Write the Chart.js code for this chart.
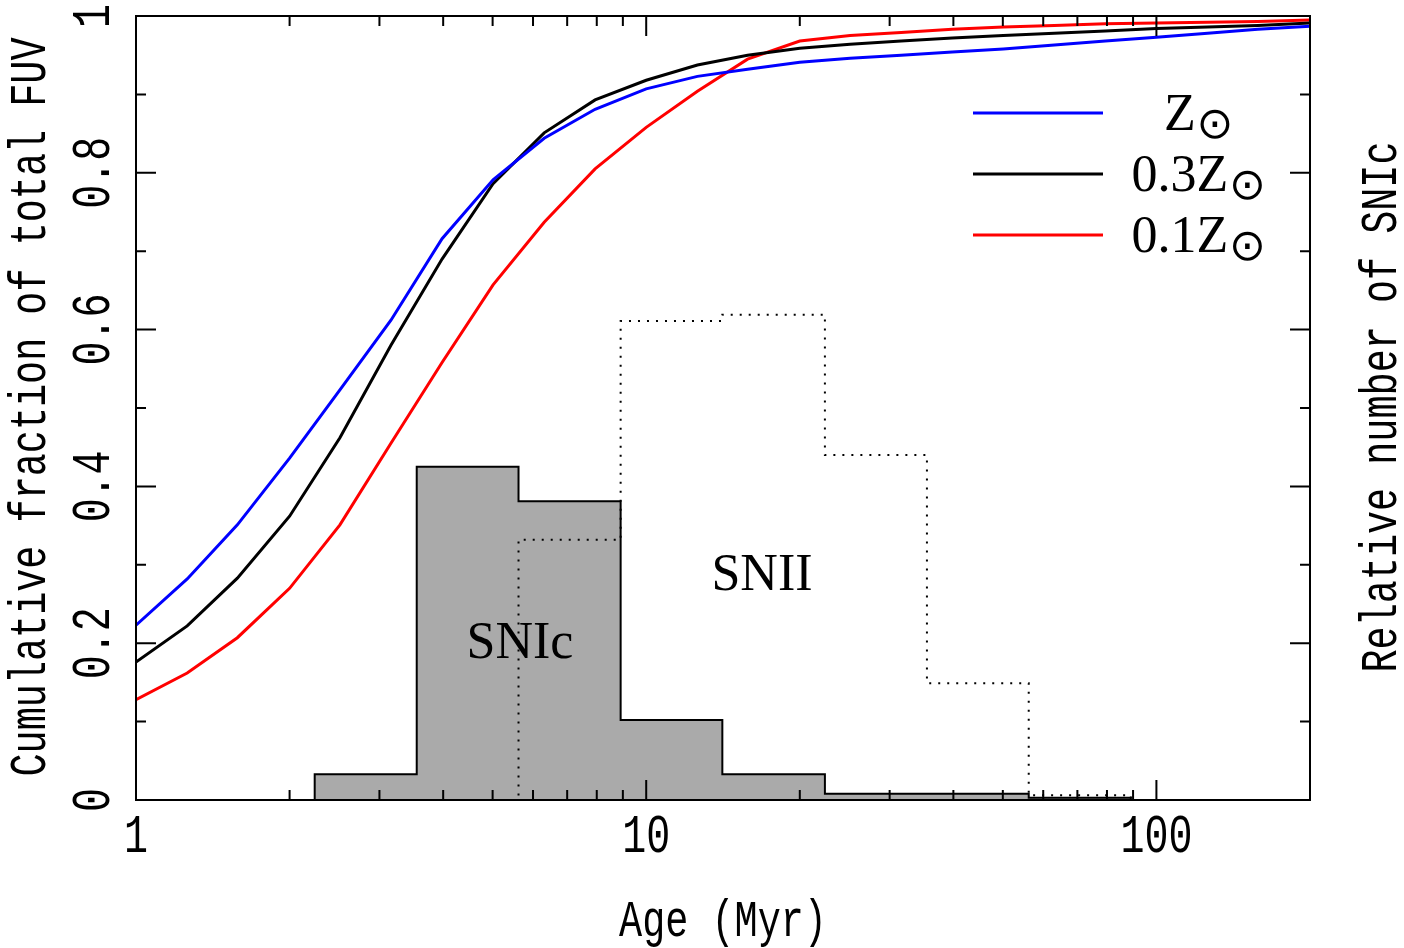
<!DOCTYPE html>
<html lang="en">
  <head>
    <meta charset="UTF-8" />
    <title>Cumulative FUV fraction vs age</title>
    <script src="https://cdn.jsdelivr.net/npm/chart.js"></script>
    <style>
      html,body{margin:0;padding:0;background:#fff}
      #wrap{width:1404px;height:948px}
    </style>
  </head>
  <body>
    <div id="wrap"><canvas id="chart" width="1404" height="948"></canvas></div>
    <script>
      // model ages (Myr), 0.1 dex grid
      const ages = [1, 1.26, 1.58, 2, 2.51, 3.16, 3.98, 5.01, 6.31, 7.94, 10, 12.6, 15.8, 20, 25.1, 31.6, 39.8, 50.1, 63.1, 79.4, 100, 126, 158, 200];
      // cumulative fraction of total FUV
      const fuvSolar = [0.223, 0.282, 0.351, 0.436, 0.523, 0.612, 0.716, 0.791, 0.844, 0.881, 0.907, 0.923, 0.932, 0.941, 0.946, 0.950, 0.954, 0.958, 0.963, 0.968, 0.973, 0.978, 0.983, 0.987];
      const fuv03 = [0.176, 0.222, 0.283, 0.362, 0.462, 0.580, 0.690, 0.786, 0.851, 0.893, 0.918, 0.9375, 0.950, 0.959, 0.964, 0.968, 0.972, 0.975, 0.978, 0.981, 0.984, 0.986, 0.988, 0.991];
      const fuv01 = [0.128, 0.162, 0.207, 0.270, 0.351, 0.455, 0.558, 0.657, 0.737, 0.805, 0.858, 0.904, 0.945, 0.968, 0.975, 0.979, 0.983, 0.986, 0.988, 0.990, 0.991, 0.992, 0.993, 0.995];

      // histogram bin edges (Myr) and relative numbers per bin
      const binEdges = [1, 1.41, 2.24, 3.55, 5.62, 8.91, 14.1, 22.4, 35.5, 56.2, 89.1, 141, 200];
      const snIc = [0, 0, 0.033, 0.425, 0.381, 0.102, 0.033, 0.008, 0.008, 0.003, 0, 0];
      const snII = [0, 0, 0, 0, 0.332, 0.611, 0.619, 0.44, 0.149, 0.006, 0, 0];

      const xMajor = [1, 10, 100];
      const xMinor = [2, 3, 4, 5, 6, 7, 8, 9, 20, 30, 40, 50, 60, 70, 80, 90, 200];
      const xTickLabels = ['1', '10', '100'];
      const yMajor = [0, 0.2, 0.4, 0.6, 0.8, 1];
      const yMinor = [0.1, 0.3, 0.5, 0.7, 0.9];
      const yTickLabels = ['0', '0.2', '0.4', '0.6', '0.8', '1'];

      const legendNames = ['Z', '0.3Z', '0.1Z'];
      const colors = ['#0000ff', '#000000', '#ff0000'];

      const curve = ys => ages.map((a, i) => ({ x: a, y: ys[i] }));
      // point i opens bin i; stepped 'before' holds it up to the next edge
      const hist = vals => binEdges.map((e, i) => ({ x: e, y: vals[Math.min(i, vals.length - 1)] }));

      const MONO = 'Liberation Mono';
      function txt(ctx, s, x, y, rot, font, sx) {
        ctx.save();
        ctx.translate(x, y);
        ctx.rotate(rot);
        ctx.scale(sx, 1);
        ctx.font = font;
        ctx.fillStyle = '#000';
        ctx.textAlign = 'center';
        ctx.textBaseline = 'middle';
        ctx.fillText(s, 0, 0);
        ctx.restore();
      }

      const decor = {
        id: 'decor',
        afterDatasetsDraw(chart) {
          const { ctx, chartArea: a, scales: { x, y } } = chart;
          ctx.save();
          ctx.strokeStyle = '#000';
          ctx.lineWidth = 2;
          ctx.strokeRect(a.left, a.top, a.right - a.left, a.bottom - a.top);

          ctx.beginPath();
          const xt = (v, len) => {
            const px = x.getPixelForValue(v);
            ctx.moveTo(px, a.bottom); ctx.lineTo(px, a.bottom - len);
            ctx.moveTo(px, a.top); ctx.lineTo(px, a.top + len);
          };
          const yt = (v, len) => {
            const py = y.getPixelForValue(v);
            ctx.moveTo(a.left, py); ctx.lineTo(a.left + len, py);
            ctx.moveTo(a.right, py); ctx.lineTo(a.right - len, py);
          };
          xMajor.forEach(v => xt(v, 20));
          xMinor.forEach(v => xt(v, 10));
          yMajor.forEach(v => yt(v, 20));
          yMinor.forEach(v => yt(v, 10));
          ctx.stroke();

          // tick labels
          xMajor.forEach((v, i) => txt(ctx, xTickLabels[i], x.getPixelForValue(v), 838, 0, `54px "${MONO}"`, 0.74));
          yMajor.forEach((v, i) => txt(ctx, yTickLabels[i], 95, y.getPixelForValue(v), -Math.PI / 2, `54px "${MONO}"`, 0.74));

          // axis titles
          txt(ctx, 'Age (Myr)', (a.left + a.right) / 2, 922, 0, `52px "${MONO}"`, 0.74);
          txt(ctx, 'Cumulative fraction of total FUV', 31, 407, -Math.PI / 2, `52px "${MONO}"`, 0.74);
          txt(ctx, 'Relative number of SNIc', 1382, 407, -Math.PI / 2, `52px "${MONO}"`, 0.74);

          // legend
          const rows = [113, 174, 235];
          rows.forEach((ly, i) => {
            ctx.strokeStyle = colors[i];
            ctx.lineWidth = 3;
            ctx.beginPath();
            ctx.moveTo(973, ly); ctx.lineTo(1103, ly);
            ctx.stroke();
            ctx.font = '52px "Liberation Serif"';
            ctx.fillStyle = '#000';
            ctx.textAlign = 'left';
            ctx.textBaseline = 'alphabetic';
            const w = ctx.measureText(legendNames[i]).width;
            const start = 1197 - (w + 34) / 2;
            const base = ly + 17;
            ctx.fillText(legendNames[i], start, base);
            ctx.font = '44px "DejaVu Sans"';
            ctx.textAlign = 'center';
            ctx.textBaseline = 'middle';
            ctx.fillText('\u2299', start + w + 19, base - 3);
          });

          // histogram labels
          ctx.font = '52px "Liberation Serif"';
          ctx.textAlign = 'center';
          ctx.textBaseline = 'alphabetic';
          ctx.fillText('SNIc', 520, 658);
          ctx.fillText('SNII', 762, 590);
          ctx.restore();
        }
      };

      new Chart(document.getElementById('chart'), {
        type: 'line',
        data: {
          datasets: [
            { label: 'Z', data: curve(fuvSolar), borderColor: colors[0], borderWidth: 3, pointRadius: 0, fill: false },
            { label: '0.3Z', data: curve(fuv03), borderColor: colors[1], borderWidth: 3, pointRadius: 0, fill: false },
            { label: '0.1Z', data: curve(fuv01), borderColor: colors[2], borderWidth: 3, pointRadius: 0, fill: false },
            { label: 'SNII', data: hist(snII), stepped: 'before', borderColor: '#000', borderWidth: 2, borderDash: [2, 7], pointRadius: 0, fill: false },
            { label: 'SNIc', data: hist(snIc), stepped: 'before', borderColor: '#000', borderWidth: 2, backgroundColor: '#aaaaaa', pointRadius: 0, fill: 'origin' }
          ]
        },
        options: {
          responsive: false,
          animation: false,
          layout: { padding: { left: 136, right: 94, top: 16, bottom: 148 } },
          plugins: { legend: { display: false }, tooltip: { enabled: false } },
          scales: {
            x: { type: 'logarithmic', min: 1, max: 200, display: false },
            y: { type: 'linear', min: 0, max: 1, display: false }
          }
        },
        plugins: [decor]
      });
    </script>
  </body>
</html>
